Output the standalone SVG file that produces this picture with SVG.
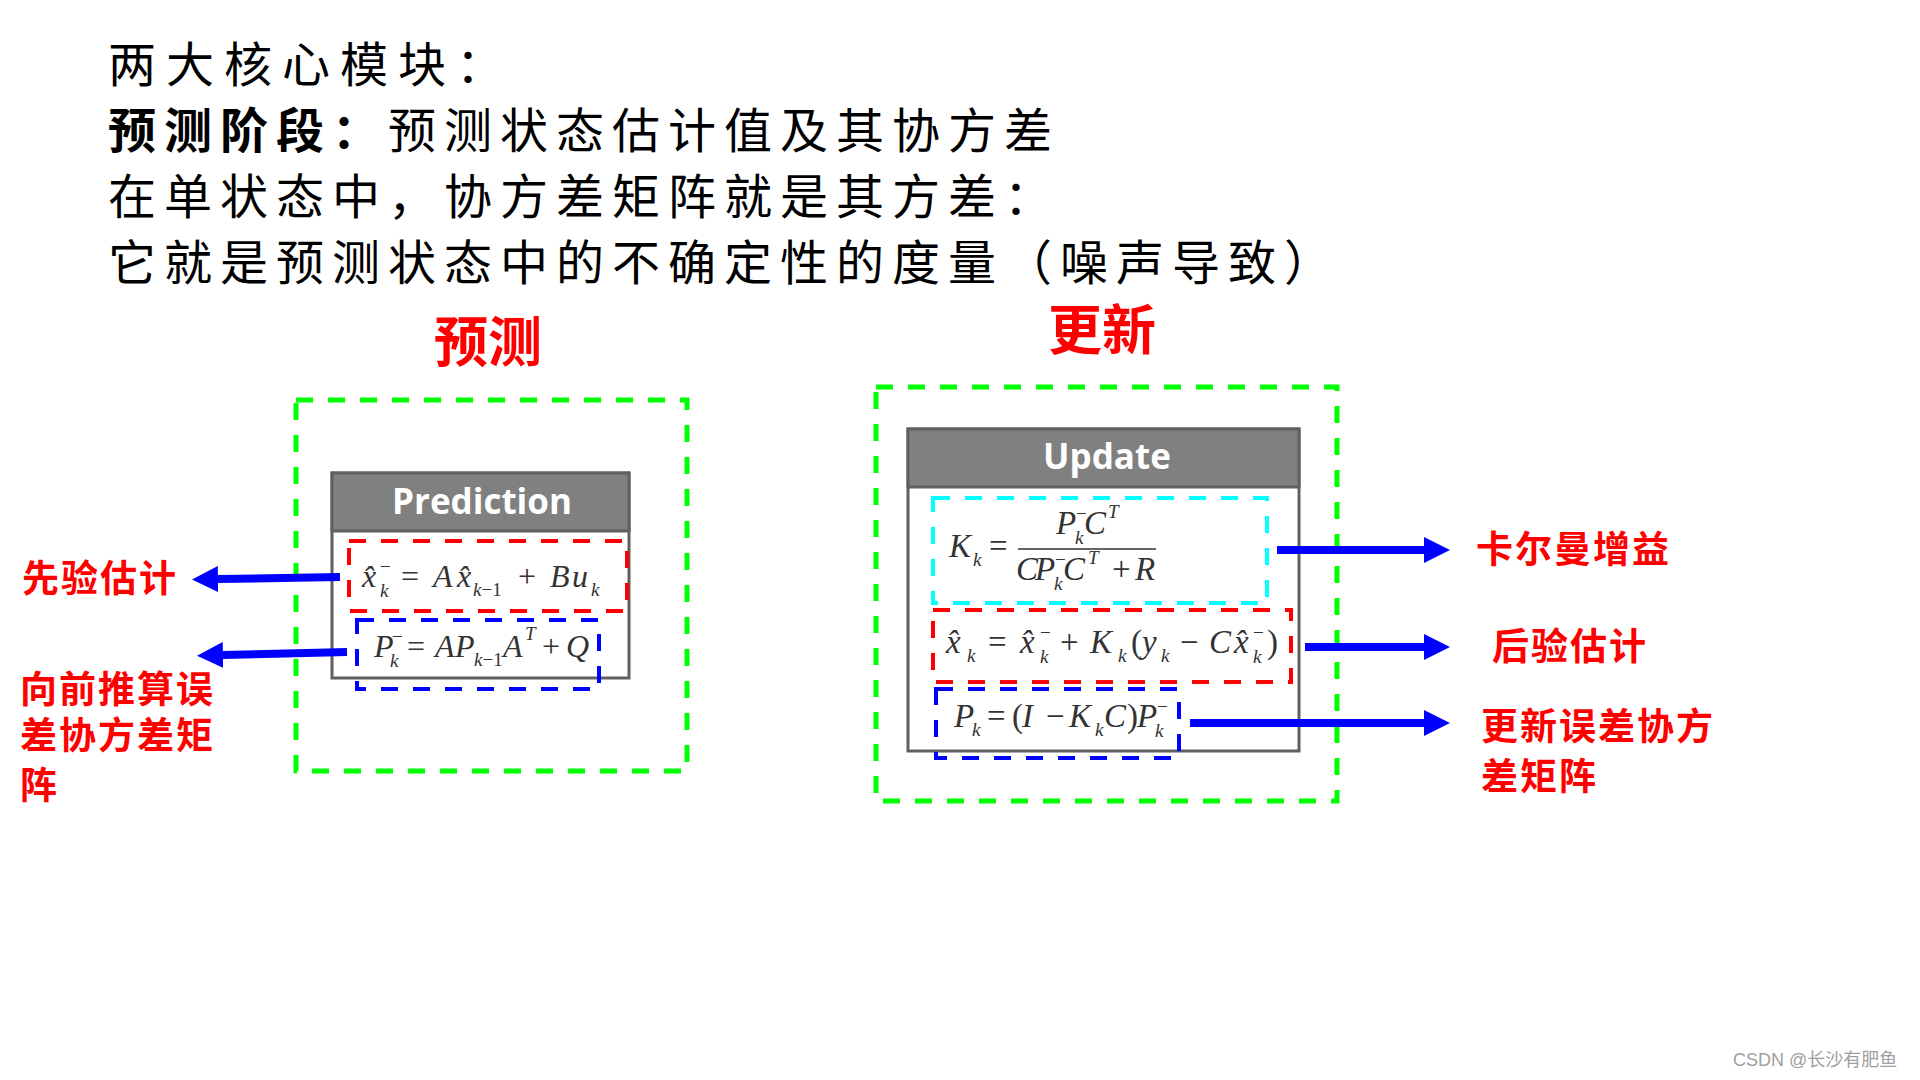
<svg xmlns="http://www.w3.org/2000/svg" width="1920" height="1080" viewBox="0 0 1920 1080">
<style>
.title{font-family:"Noto Sans CJK SC","Noto Sans",sans-serif;font-size:48px;fill:#000;letter-spacing:8px}
.b{font-weight:bold}
.head{font-family:"Noto Sans CJK SC",sans-serif;font-size:54px;font-weight:bold;fill:#ff0000;text-anchor:middle}
.lab{font-family:"Noto Sans CJK SC",sans-serif;font-size:37px;font-weight:bold;fill:#ff0000;letter-spacing:2px}
.hdr{fill:#808080;stroke:#606060;stroke-width:3}
.body{fill:#fff;stroke:#606060;stroke-width:3}
.htxt{font-family:"Open Sans","Liberation Sans",sans-serif;font-weight:bold;font-size:35px;fill:#fff;text-anchor:middle}
.math{font-family:"Liberation Serif",serif;font-style:italic;font-size:33px;fill:#333}
.mp{font-size:32px}
.s{font-size:19px}
.up{font-style:normal}
.dg{fill:none;stroke:#00ff00;stroke-width:5;stroke-dasharray:17 15}
.dr{fill:none;stroke:#ff0000;stroke-width:4;stroke-dasharray:17 15}
.db{fill:none;stroke:#0000ff;stroke-width:4;stroke-dasharray:17 15}
.dc{fill:none;stroke:#00ffff;stroke-width:4;stroke-dasharray:17 15}
.arr{stroke:#0000ff;stroke-width:8;fill:none;marker-end:url(#ah)}
.wm{font-family:"Liberation Sans","Noto Sans CJK SC",sans-serif;font-size:18px;fill:#a0a0a0}
</style>
<defs>
<marker id="ah" markerUnits="userSpaceOnUse" viewBox="0 0 26 26" refX="0" refY="13" markerWidth="26" markerHeight="26" orient="auto">
<path d="M0,0 L26,13 L0,26 Z" fill="#0000ff"/>
</marker>
</defs>
<rect width="1920" height="1080" fill="#fff"/>

<g id="intro">
<text class="title" x="108" y="82" style="letter-spacing:10px">两大核心模块：</text>
<text class="title" x="108" y="148"><tspan class="b">预测阶段：</tspan>预测状态估计值及其协方差</text>
<text class="title" x="108" y="214">在单状态中，协方差矩阵就是其方差：</text>
<text class="title" x="108" y="280">它就是预测状态中的不确定性的度量（噪声导致）</text>
</g>

<g id="heading-predict"><text class="head" x="488" y="362">预测</text></g>
<g id="heading-update"><text class="head" x="1102" y="350">更新</text></g>

<g id="prediction-block">
<rect class="dg" x="296" y="400" width="391" height="371"/>
<rect class="body" x="332" y="473" width="297" height="205"/>
<rect class="hdr" x="332" y="473" width="297" height="58"/>
<text class="htxt" x="482" y="514">Prediction</text>
<text class="math mp"><tspan x="362" y="587">x̂</tspan><tspan class="s up" x="380" y="573">−</tspan><tspan class="s" x="380" y="597">k</tspan><tspan class="up" x="401" y="587">=</tspan><tspan x="433" y="587">A</tspan><tspan x="457" y="587">x̂</tspan><tspan class="s" x="473" y="596">k<tspan class="up">−1</tspan></tspan><tspan class="up" x="518" y="587">+</tspan><tspan x="550" y="587">B</tspan><tspan x="572" y="587">u</tspan><tspan class="s" x="591" y="596">k</tspan></text>
<text class="math mp"><tspan x="374" y="657">P</tspan><tspan class="s up" x="392" y="643">−</tspan><tspan class="s" x="390" y="667">k</tspan><tspan class="up" x="407" y="657">=</tspan><tspan x="435" y="657">A</tspan><tspan x="455" y="657">P</tspan><tspan class="s" x="474" y="666">k<tspan class="up">−1</tspan></tspan><tspan x="503" y="657">A</tspan><tspan class="s" x="525" y="640">T</tspan><tspan class="up" x="542" y="657">+</tspan><tspan x="566" y="657">Q</tspan></text>
<rect class="dr" x="349" y="541" width="278" height="70"/>
<rect class="db" x="357" y="620" width="242" height="69"/>
</g>

<g id="update-block">
<rect class="dg" x="876" y="387" width="461" height="414"/>
<rect class="body" x="908" y="429" width="391" height="322"/>
<rect class="hdr" x="908" y="429" width="391" height="58"/>
<text class="htxt" x="1107" y="469">Update</text>
<text class="math"><tspan x="949" y="557">K</tspan><tspan class="s" x="973" y="566">k</tspan><tspan class="up" x="989" y="557">=</tspan></text>
<line x1="1018" y1="549" x2="1156" y2="549" stroke="#333" stroke-width="1.5"/>
<text class="math"><tspan x="1056" y="534">P</tspan><tspan class="s up" x="1076" y="520">−</tspan><tspan class="s" x="1075" y="544">k</tspan><tspan x="1084" y="534">C</tspan><tspan class="s" x="1108" y="518">T</tspan></text>
<text class="math"><tspan x="1016" y="580">C</tspan><tspan x="1035" y="580">P</tspan><tspan class="s up" x="1055" y="566">−</tspan><tspan class="s" x="1054" y="590">k</tspan><tspan x="1063" y="580">C</tspan><tspan class="s" x="1088" y="564">T</tspan><tspan class="up" x="1112" y="580">+</tspan><tspan x="1135" y="580">R</tspan></text>
<text class="math"><tspan x="946" y="653">x̂</tspan><tspan class="s" x="967" y="662">k</tspan><tspan class="up" x="988" y="653">=</tspan><tspan x="1020" y="653">x̂</tspan><tspan class="s up" x="1040" y="639">−</tspan><tspan class="s" x="1040" y="663">k</tspan><tspan class="up" x="1060" y="653">+</tspan><tspan x="1090" y="653">K</tspan><tspan class="s" x="1118" y="662">k</tspan><tspan class="up" x="1131" y="653">(</tspan><tspan x="1142" y="653">y</tspan><tspan class="s" x="1161" y="662">k</tspan><tspan class="up" x="1180" y="653">−</tspan><tspan x="1209" y="653">C</tspan><tspan x="1234" y="653">x̂</tspan><tspan class="s up" x="1253" y="639">−</tspan><tspan class="s" x="1253" y="663">k</tspan><tspan class="up" x="1267" y="653">)</tspan></text>
<text class="math"><tspan x="954" y="727">P</tspan><tspan class="s" x="972" y="736">k</tspan><tspan class="up" x="987" y="727">=</tspan><tspan class="up" x="1012" y="727">(</tspan><tspan x="1022" y="727">I</tspan><tspan class="up" x="1046" y="727">−</tspan><tspan x="1069" y="727">K</tspan><tspan class="s" x="1095" y="736">k</tspan><tspan x="1104" y="727">C</tspan><tspan class="up" x="1127" y="727">)</tspan><tspan x="1137" y="727">P</tspan><tspan class="s up" x="1157" y="713">−</tspan><tspan class="s" x="1155" y="737">k</tspan></text>
<rect class="dc" x="933" y="498" width="334" height="105"/>
<rect class="dr" x="933" y="610" width="358" height="72"/>
<rect class="db" x="936" y="689" width="243" height="69"/>
</g>

<g id="connectors">
<path class="arr" d="M340,577 L218,579"/>
<path class="arr" d="M347,652 L223,655"/>
<path class="arr" d="M1277,550 L1424,550"/>
<path class="arr" d="M1305,647 L1424,647"/>
<path class="arr" d="M1190,723 L1424,723"/>
</g>

<g id="label-prior"><text class="lab" x="22" y="592">先验估计</text></g>
<g id="label-pred-cov">
<text class="lab" x="20" y="703">向前推算误</text>
<text class="lab" x="20" y="749">差协方差矩</text>
<text class="lab" x="20" y="799">阵</text>
</g>
<g id="label-gain"><text class="lab" x="1476" y="563">卡尔曼增益</text></g>
<g id="label-post"><text class="lab" x="1492" y="660">后验估计</text></g>
<g id="label-upd-cov">
<text class="lab" x="1481" y="740">更新误差协方</text>
<text class="lab" x="1481" y="790">差矩阵</text>
</g>

<text class="wm" x="1733" y="1066">CSDN @长沙有肥鱼</text>
</svg>
